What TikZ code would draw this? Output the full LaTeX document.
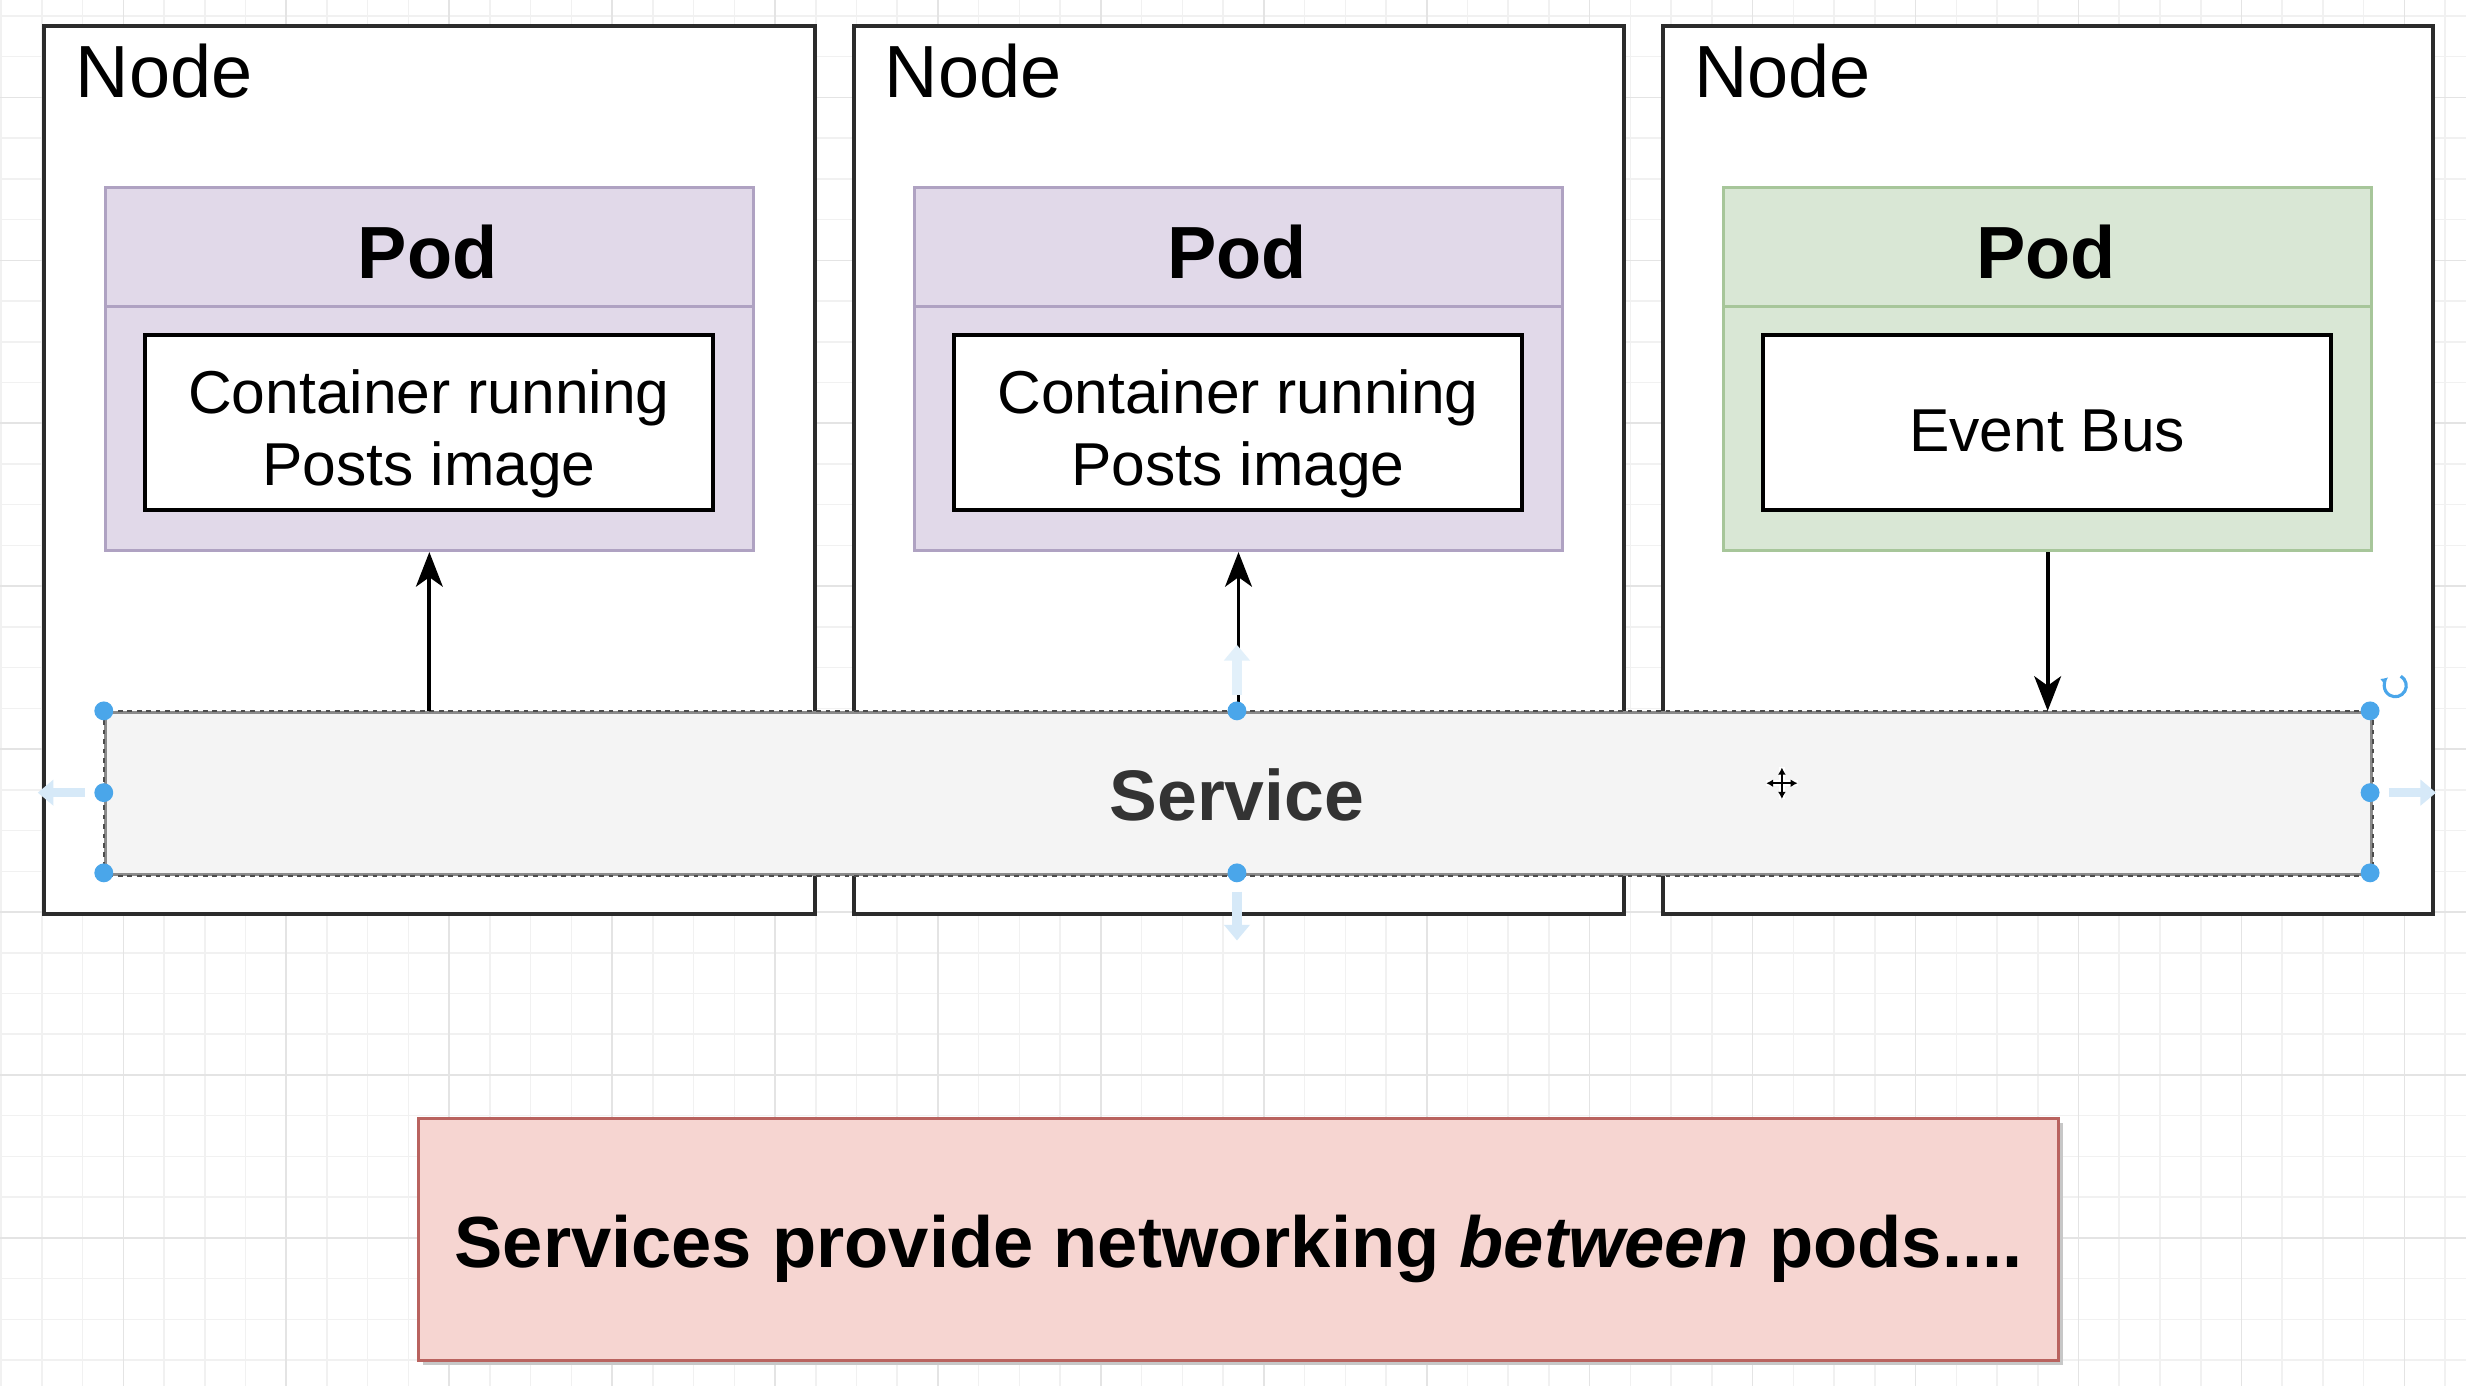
\documentclass[tikz,border=0pt]{standalone}
\usepackage{fontspec}
\setmainfont{Liberation Sans}
\usetikzlibrary{arrows.meta}
\definecolor{gridminor}{HTML}{F1F1F1}
\definecolor{gridmajor}{HTML}{E4E4E4}
\definecolor{nodeline}{HTML}{2B2B2B}
\definecolor{podfill}{HTML}{E1D9E9}
\definecolor{podline}{HTML}{AFA2C2}
\definecolor{greenfill}{HTML}{D9E7D5}
\definecolor{greenline}{HTML}{A7C69A}
\definecolor{svcfill}{HTML}{F4F4F4}
\definecolor{svcline}{HTML}{8A8A8A}
\definecolor{svctext}{HTML}{333333}
\definecolor{notefill}{HTML}{F6D5D1}
\definecolor{noteline}{HTML}{B9635F}
\definecolor{handle}{HTML}{4AA6EA}
\definecolor{hover}{HTML}{D6E9F8}
\tikzset{
  nodebox/.style={draw=nodeline, line width=2.5pt, fill=white, inner sep=0pt, anchor=north west, minimum width=490pt, minimum height=565pt},
  nodelabel/.style={anchor=base west, inner sep=0pt, font=\fontsize{47}{56}\selectfont, text=black},
  podbox/.style={draw=podline, line width=2pt, fill=podfill, inner sep=0pt, anchor=north west, minimum width=412pt, minimum height=231pt},
  greenbox/.style={podbox, draw=greenline, fill=greenfill},
  podtitle/.style={anchor=base, inner sep=0pt, font=\fontsize{47}{56}\selectfont\bfseries},
  contbox/.style={draw=black, line width=2.5pt, fill=white, inner sep=0pt, anchor=north west, minimum width=361pt, minimum height=111pt},
  conttext/.style={inner sep=0pt, align=center, font=\fontsize{38.5}{46}\selectfont},
  arr/.style={draw=black, line width=2.5pt, -{Stealth[length=22pt, width=17pt, inset=6pt]}},
  handledot/.style={fill=handle},
  hoverarrow/.style={draw=hover, line width=6pt, -{Triangle[length=10pt, width=16pt]}},
}
\begin{document}
\begin{tikzpicture}[x=1pt, y=-1pt]
\useasboundingbox (0,0) rectangle (1568,881.3);
\fill[white] (0,0) rectangle (1568,881.3);
\begin{scope}
\clip (0,0) rectangle (1568,881.3);
\foreach \k in {0,...,61} {
  \draw[gridminor, line width=1pt] ({0.7+25.9*\k},0) -- ({0.7+25.9*\k},881.3);
}
\foreach \k in {0,...,34} {
  \draw[gridminor, line width=1pt] (0,{10.1+25.9*\k}) -- (1568,{10.1+25.9*\k});
}
\foreach \k in {0,...,15} {
  \draw[gridmajor, line width=1pt] ({78.4+103.6*\k},0) -- ({78.4+103.6*\k},881.3);
}
\foreach \k in {0,...,8} {
  \draw[gridmajor, line width=1pt] (0,{61.9+103.6*\k}) -- (1568,{61.9+103.6*\k});
}
\end{scope}

% Nodes
\node[nodebox] (n1) at (27,15) {};
\node[nodebox] (n2) at (541.5,15) {};
\node[nodebox] (n3) at (1056,15) {};
\node[nodelabel] (l1) at (48,62) {Node};
\node[nodelabel] (l2) at (562.5,62) {Node};
\node[nodelabel] (l3) at (1077,62) {Node};

% Pods
\node[podbox] (p1) at (66,118) {};
\node[podbox] (p2) at (580.5,118) {};
\node[greenbox] (p3) at (1095,118) {};
\draw[podline, line width=2pt] (p1.west |- 0,195) -- (p1.east |- 0,195);
\draw[podline, line width=2pt] (p2.west |- 0,195) -- (p2.east |- 0,195);
\draw[greenline, line width=2pt] (p3.west |- 0,195) -- (p3.east |- 0,195);
\node[podtitle] (t1) at (272,177) {Pod};
\node[podtitle] (t2) at (786.5,177) {Pod};
\node[podtitle] (t3) at (1301,177) {Pod};

% Containers
\node[contbox] (c1) at (91,212) {};
\node[contbox] (c2) at (605.5,212) {};
\node[contbox] (c3) at (1120,212) {};
\node[conttext] (ct1) at ([yshift=-7pt]c1.center) {Container running\\Posts image};
\node[conttext] (ct2) at ([yshift=-7pt]c2.center) {Container running\\Posts image};
\node[conttext] (ct3) at ([yshift=-5pt]c3.center) {Event Bus};

% Service
\node[draw=svcline, line width=2pt, fill=svcfill, inner sep=0pt, anchor=north west,
      minimum width=1441pt, minimum height=103pt] (svc) at (66,452) {};
\draw[black!70, line width=1pt, dash pattern=on 3pt off 3pt] (svc.north west) rectangle (svc.south east);
\node[inner sep=0pt, font=\fontsize{45.5}{54}\selectfont\bfseries, text=svctext] (svct) at (786.5,505.5) {Service};

% Connectors
\draw[arr] (svc.north -| p1.south) -- (p1.south);
\draw[arr] (svc.north -| p2.south) -- (p2.south);
\draw[arr] (p3.south) -- (svc.north -| p3.south);

% Hover arrows (faint)
\draw[hoverarrow] (54,504) -- (24,504);
\draw[hoverarrow] (1519,504) -- (1549,504);
\draw[hoverarrow, draw=hover!70] (786.5,442) -- (786.5,410);
\draw[hoverarrow] (786.5,567) -- (786.5,598);

% Selection handles
\foreach \hx/\hy in {66/452, 786.5/452, 1507/452, 66/504, 1507/504, 66/555, 786.5/555, 1507/555} {
  \fill[handledot] (\hx,\hy) circle (6pt);
}
% Rotate icon
\draw[handle, line width=2pt, -{Latex[length=4.5pt,width=5pt]}] (1523,436) ++(-60:7) arc[start angle=-60, end angle=230, radius=7];
% Move cursor
\draw[white, line width=4pt] (1123,498) -- (1143,498) (1133,488) -- (1133,508);
\draw[black, line width=1.6pt, {Latex[length=4.5pt,width=5pt]}-{Latex[length=4.5pt,width=5pt]}] (1123,498) -- (1143,498);
\draw[black, line width=1.6pt, {Latex[length=4.5pt,width=5pt]}-{Latex[length=4.5pt,width=5pt]}] (1133,488) -- (1133,508);

% Note
\fill[black!22] (269,714) rectangle (1312,868);
\node[draw=noteline, line width=2pt, fill=notefill, inner sep=0pt, anchor=north west,
      minimum width=1043pt, minimum height=154pt] (note) at (265,710) {};
\node[anchor=base, inner sep=0pt, font=\fontsize{46}{55}\selectfont\bfseries] (notet) at (787.5,806)
  {Services provide networking \textit{between} pods....};
\end{tikzpicture}
\end{document}
